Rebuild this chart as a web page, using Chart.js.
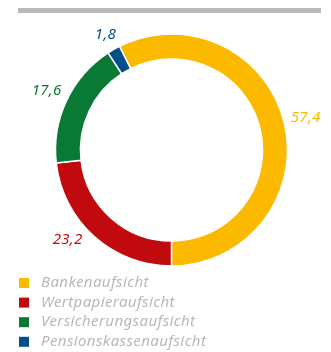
<!DOCTYPE html>
<html>
<head>
<meta charset="utf-8">
<script src="https://cdn.jsdelivr.net/npm/chart.js@4"></script>
<style>
  body { margin: 0; background: #fff; }
  #wrap { position: relative; width: 331px; height: 352px; }
  /* grey rule across the top */
  #rule { position: absolute; left: 18px; top: 8px; width: 303px; height: 5px; background: #b9b9b9; }
  canvas { position: absolute; left: 0; top: 0; }
</style>
</head>
<body>
<div id="wrap">
  <canvas id="shareChart" width="331" height="352"></canvas>
  <div id="rule"></div>
</div>
<script>
const categories = ['Bankenaufsicht', 'Wertpapieraufsicht', 'Versicherungsaufsicht', 'Pensionskassenaufsicht'];
const shares = [57.4, 23.2, 17.6, 1.8];
const colors = ['#fbb900', '#c10a0d', '#0a7935', '#034f8c'];

const FONT = 'italic 15px "Noto Sans"';

// value labels outside the ring, pushed out so the text box clears the arc
const outsideLabels = {
  id: 'outsideLabels',
  afterDatasetsDraw(chart, args, opts) {
    const ctx = chart.ctx;
    const meta = chart.getDatasetMeta(0);
    ctx.save();
    ctx.font = FONT;
    ctx.letterSpacing = '0.3px';
    ctx.textAlign = 'center';
    ctx.textBaseline = 'middle';
    meta.data.forEach((arc, i) => {
      const p = arc.getProps(['x', 'y', 'startAngle', 'endAngle', 'outerRadius'], true);
      const mid = (p.startAngle + p.endAngle) / 2;
      const text = shares[i].toFixed(1).replace('.', ',');
      const w = ctx.measureText(text).width;
      const c = Math.cos(mid), s = Math.sin(mid);
      const r = p.outerRadius + 6 + Math.abs(c) * w / 2 + Math.abs(s) * 6;
      const [dx, dy] = (opts.nudge && opts.nudge[i]) || [0, 0];
      ctx.fillStyle = colors[i];
      ctx.fillText(text, p.x + c * r + dx, p.y + s * r + dy);
    });
    ctx.restore();
  }
};

// stacked legend in the lower left corner
const sideLegend = {
  id: 'sideLegend',
  afterDraw(chart) {
    const ctx = chart.ctx;
    ctx.save();
    ctx.font = FONT;
    ctx.letterSpacing = '0.4px';
    ctx.textBaseline = 'middle';
    categories.forEach((name, i) => {
      const y = 278 + i * 19.6;
      ctx.fillStyle = colors[i];
      ctx.fillRect(19, y, 10, 10);
      ctx.fillStyle = '#b8b8b8';
      ctx.fillText(name, 41, y + 5);
    });
    ctx.restore();
  }
};

new Chart(document.getElementById('shareChart'), {
  type: 'doughnut',
  data: {
    labels: categories,
    datasets: [{
      data: shares,
      backgroundColor: colors,
      borderColor: '#ffffff',
      borderWidth: 1.5
    }]
  },
  options: {
    responsive: false,
    animation: false,
    rotation: -26.64,
    radius: 116,
    cutout: '78.5%',
    layout: { padding: { left: 12, right: 0, top: 0, bottom: 52 } },
    plugins: {
      legend: { display: false },
      tooltip: { enabled: false },
      outsideLabels: { nudge: { 1: [-13, -12] } }
    }
  },
  plugins: [outsideLabels, sideLegend]
});
</script>
</body>
</html>
